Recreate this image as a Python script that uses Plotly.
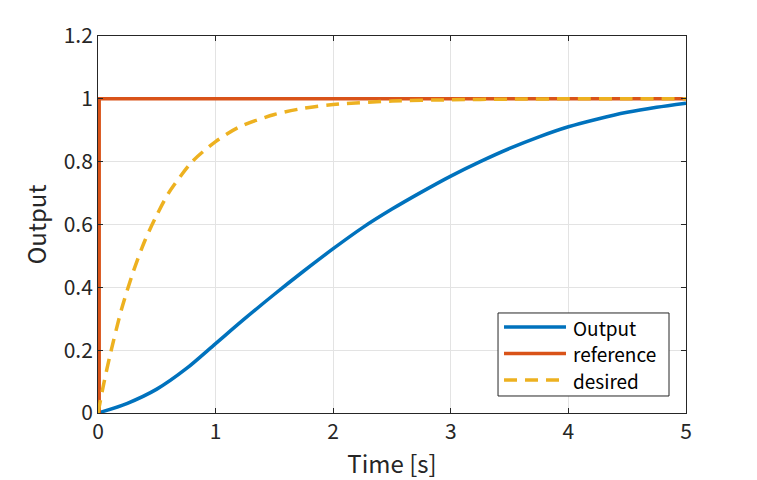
import plotly.graph_objects as go

t_out = [0, 0.25, 0.5, 0.75, 1.0, 1.25, 1.5, 1.75, 2.0, 2.25, 2.5, 2.75, 3.0, 3.25, 3.5, 3.75, 4.0, 4.25, 4.5, 4.75, 5.0]
y_out = [0, 0.031, 0.076, 0.141, 0.221, 0.301, 0.378, 0.452, 0.523, 0.590, 0.649, 0.703, 0.754, 0.800, 0.842, 0.879, 0.911, 0.936, 0.957, 0.973, 0.986]

t_ref = [0, 0.01, 0.01, 5.0]
y_ref = [0, 0, 1, 1]

t_des = [0, 0.05, 0.1, 0.2, 0.3, 0.4, 0.5, 0.6, 0.7, 0.8, 1.0, 1.2, 1.5, 1.75, 2.0, 2.5, 3.0, 3.5, 4.0, 4.5, 5.0]
y_des = [0, 0.095, 0.18, 0.33, 0.45, 0.55, 0.63, 0.70, 0.753, 0.80, 0.864, 0.91, 0.95, 0.97, 0.982, 0.993, 0.997, 0.999, 1.0, 1.0, 1.0]

names = ["Output", "reference", "desired"]
colors = ["#0072BD", "#D95319", "#EDB120"]
dashes = ["solid", "solid", "13px,8px"]

font = "Noto Sans CJK JP, Noto Sans, sans-serif"
ink = "#262626"
fig = go.Figure()
series = [(t_out, y_out, "spline"), (t_ref, y_ref, "linear"), (t_des, y_des, "spline")]
for (tx, ty, shp), nm, col, ds in zip(series, names, colors, dashes):
    fig.add_trace(go.Scatter(x=tx, y=ty, mode="lines", name=nm, showlegend=False,
                             line=dict(color=col, width=3.5, dash=ds, shape=shp, smoothing=0.8)))

axis_common = dict(showline=True, linecolor=ink, linewidth=1, mirror="ticks",
                   ticks="inside", ticklen=5, tickcolor=ink, automargin=False,
                   showgrid=True, gridcolor="#e3e3e3", gridwidth=1, zeroline=False,
                   tickfont=dict(family=font, size=21, color=ink))
fig.update_xaxes(range=[0, 5], dtick=1,
                 title=dict(text="Time [s]", font=dict(family=font, size=24, color=ink), standoff=12), **axis_common)
fig.update_yaxes(range=[0, 1.2], tickvals=[0, 0.2, 0.4, 0.6, 0.8, 1, 1.2],
                 ticktext=["0", "0.2", "0.4", "0.6", "0.8", "1", "1.2"],
                 title=dict(text="Output", font=dict(family=font, size=24, color=ink), standoff=10), **axis_common)

# legend box drawn in paper coordinates (plot area fraction)
box_x0, box_x1, box_y0, box_y1 = 0.6803, 0.9711, 0.0451, 0.2653
line_x0, line_x1, text_x = 0.6905, 0.7959, 0.8061
row_y = [0.2281, 0.1578, 0.0875]
shapes = [dict(type="rect", xref="paper", yref="paper", x0=box_x0, x1=box_x1, y0=box_y0, y1=box_y1,
               fillcolor="white", line=dict(color=ink, width=1), layer="above")]
annotations = []
for nm, col, ds, ry in zip(names, colors, dashes, row_y):
    shapes.append(dict(type="line", xref="paper", yref="paper", x0=line_x0, x1=line_x1, y0=ry, y1=ry,
                       line=dict(color=col, width=3.5, dash=ds), layer="above"))
    annotations.append(dict(text=nm, xref="paper", yref="paper", x=text_x, y=ry, xanchor="left",
                            yanchor="middle", showarrow=False, borderpad=0,
                            font=dict(family=font, size=19, color="black")))

# page body has an 8px default margin, so the figure is offset by 8px
fig.update_layout(width=749, height=472, margin=dict(l=90, r=71, t=28, b=67),
                  paper_bgcolor="white", plot_bgcolor="white",
                  shapes=shapes, annotations=annotations)
fig.write_html("out.html")
